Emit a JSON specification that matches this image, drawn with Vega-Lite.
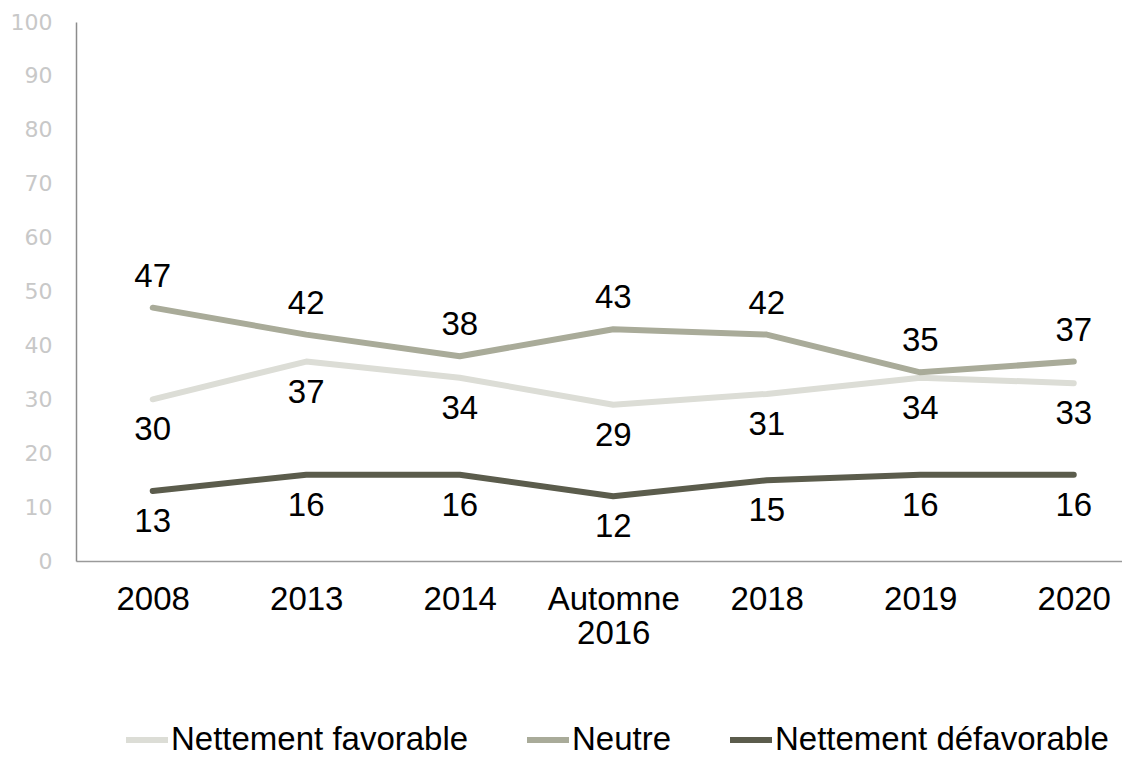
{
  "$schema": "https://vega.github.io/schema/vega-lite/v6.json",
  "autosize": "none",
  "padding": {"left": 76, "top": 22, "right": 0, "bottom": 196},
  "width": 1046,
  "height": 539,
  "background": "white",
  "config": {
    "view": {"stroke": null},
    "font": "Liberation Sans"
  },
  "data": {
    "values": [
      {"periode": "2008", "serie": "Nettement favorable", "valeur": 30},
      {"periode": "2013", "serie": "Nettement favorable", "valeur": 37},
      {"periode": "2014", "serie": "Nettement favorable", "valeur": 34},
      {"periode": "Automne 2016", "serie": "Nettement favorable", "valeur": 29},
      {"periode": "2018", "serie": "Nettement favorable", "valeur": 31},
      {"periode": "2019", "serie": "Nettement favorable", "valeur": 34},
      {"periode": "2020", "serie": "Nettement favorable", "valeur": 33},
      {"periode": "2008", "serie": "Neutre", "valeur": 47},
      {"periode": "2013", "serie": "Neutre", "valeur": 42},
      {"periode": "2014", "serie": "Neutre", "valeur": 38},
      {"periode": "Automne 2016", "serie": "Neutre", "valeur": 43},
      {"periode": "2018", "serie": "Neutre", "valeur": 42},
      {"periode": "2019", "serie": "Neutre", "valeur": 35},
      {"periode": "2020", "serie": "Neutre", "valeur": 37},
      {"periode": "2008", "serie": "Nettement défavorable", "valeur": 13},
      {"periode": "2013", "serie": "Nettement défavorable", "valeur": 16},
      {"periode": "2014", "serie": "Nettement défavorable", "valeur": 16},
      {"periode": "Automne 2016", "serie": "Nettement défavorable", "valeur": 12},
      {"periode": "2018", "serie": "Nettement défavorable", "valeur": 15},
      {"periode": "2019", "serie": "Nettement défavorable", "valeur": 16},
      {"periode": "2020", "serie": "Nettement défavorable", "valeur": 16}
    ]
  },
  "encoding": {
    "x": {
      "field": "periode",
      "type": "ordinal",
      "sort": null,
      "scale": {"type": "point", "padding": 0.407, "align": 0.614},
      "axis": {
        "title": null,
        "labelAngle": 0,
        "labelFont": "Liberation Sans",
        "labelFontSize": 33,
        "labelColor": "#000000",
        "labelPadding": 22,
        "labelLineHeight": 34,
        "labelExpr": "datum.label == 'Automne 2016' ? ['Automne', '2016'] : datum.label",
        "ticks": false,
        "grid": false,
        "domainColor": "#9a9a9a",
        "domainWidth": 1.5
      }
    },
    "y": {
      "field": "valeur",
      "type": "quantitative",
      "scale": {"domain": [0, 100], "nice": false},
      "axis": {
        "title": null,
        "values": [0, 10, 20, 30, 40, 50, 60, 70, 80, 90, 100],
        "labelFont": "DejaVu Sans",
        "labelFontSize": 22,
        "labelColor": "#c8c8c8",
        "labelPadding": 24,
        "ticks": false,
        "grid": false,
        "domainColor": "#8c8c8c",
        "domainWidth": 1.5
      }
    }
  },
  "layer": [
    {
      "mark": {"type": "line", "strokeWidth": 6, "strokeCap": "round", "strokeJoin": "round"},
      "encoding": {
        "color": {
          "field": "serie",
          "type": "nominal",
          "scale": {
            "domain": ["Nettement favorable", "Neutre", "Nettement défavorable"],
            "range": ["#dcddd6", "#a9ab99", "#5b5c4c"]
          },
          "legend": {
            "title": null,
            "orient": "none",
            "direction": "horizontal",
            "legendX": 47,
            "legendY": 694,
            "symbolType": "stroke",
            "symbolSize": 1764,
            "symbolStrokeWidth": 6,
            "labelFont": "Liberation Sans",
            "labelFontSize": 33,
            "labelColor": "#000000",
            "labelOffset": 0,
            "labelLimit": 600,
            "columnPadding": 46
          }
        }
      }
    },
    {
      "transform": [{"filter": "datum.serie == 'Neutre'"}],
      "mark": {"type": "text", "fontSize": 33, "font": "Liberation Sans", "color": "#000000", "dy": -31, "baseline": "middle"},
      "encoding": {"text": {"field": "valeur", "type": "quantitative"}}
    },
    {
      "transform": [{"filter": "datum.serie != 'Neutre'"}],
      "mark": {"type": "text", "fontSize": 33, "font": "Liberation Sans", "color": "#000000", "dy": 31, "baseline": "middle"},
      "encoding": {"text": {"field": "valeur", "type": "quantitative"}}
    }
  ]
}
